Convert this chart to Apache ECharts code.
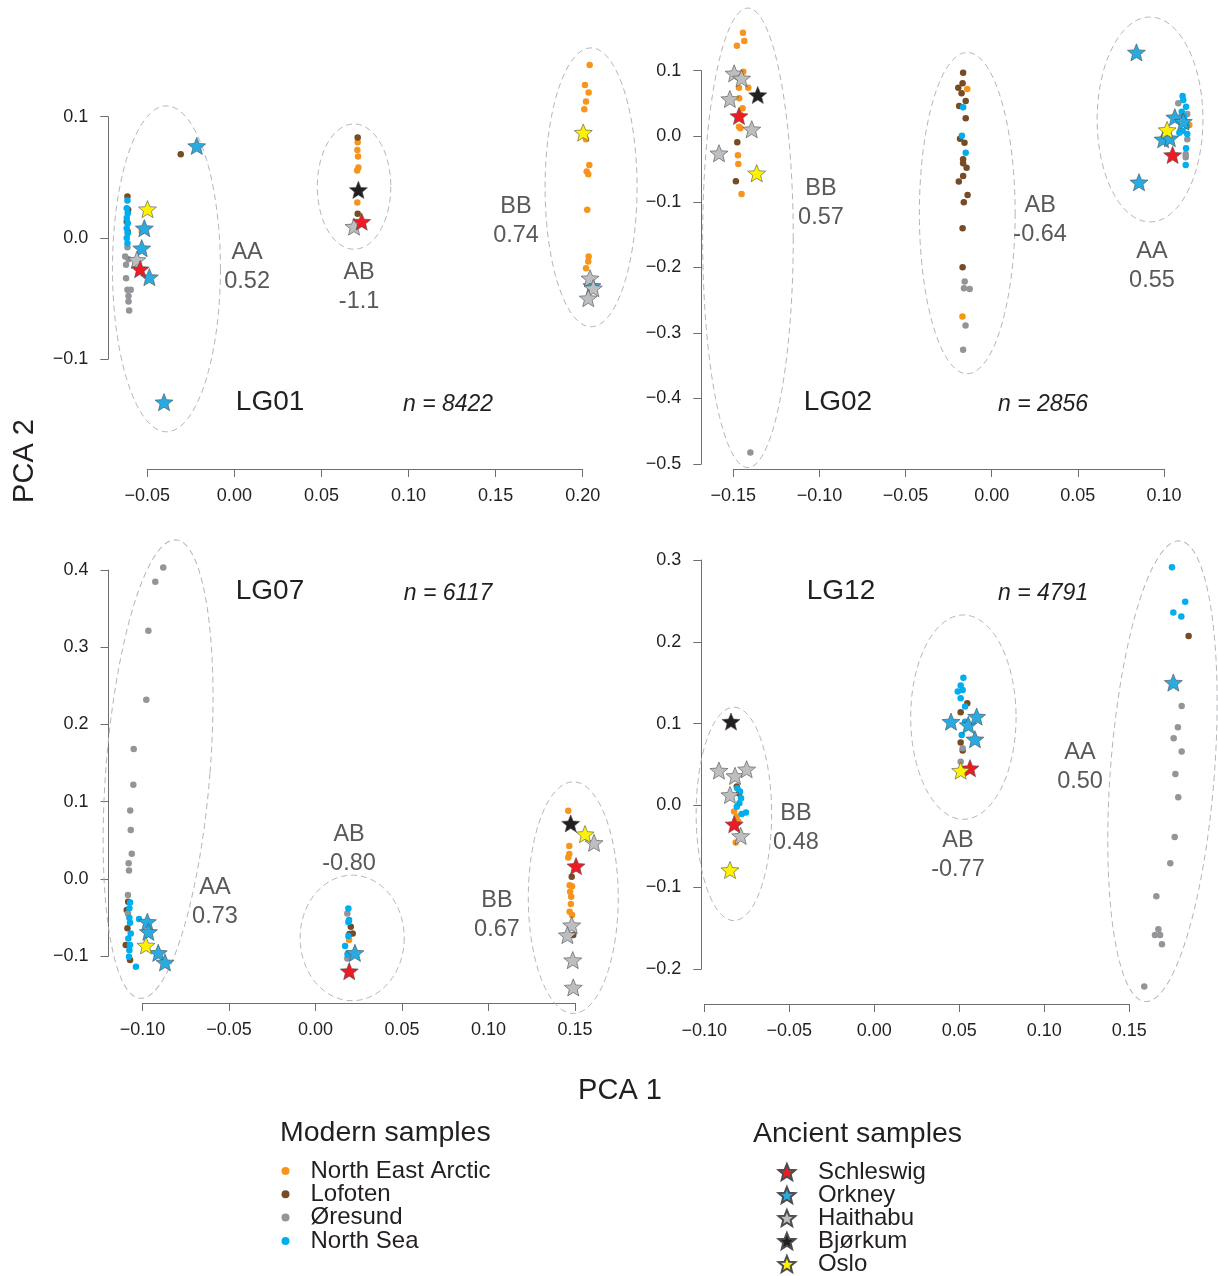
<!DOCTYPE html>
<html>
<head>
<meta charset="utf-8">
<title>PCA per linkage group</title>
<script src="https://cdn.jsdelivr.net/npm/echarts@6/dist/echarts.min.js"></script>
<style>
  html, body { margin: 0; padding: 0; background: #fff; }
  #chart { width: 1218px; height: 1276px; }
</style>
</head>
<body>
<div id="chart"></div>
<script>
// values: [PCA 1, PCA 2]

// ---- LG01 ----
const lg01XRange = [-0.05, 0.20, 0.05];
const lg01YRange = [-0.1, 0.1, 0.1];
const lg01NEA = [[-0.0532, 0.0052],
  [0.0708, 0.0790], [0.0706, 0.0726], [0.0710, 0.0671], [0.0712, 0.0580], [0.0705, 0.0555], [0.0706, 0.0291],
  [0.2040, 0.1427], [0.2013, 0.1262], [0.2034, 0.1199], [0.2019, 0.1125], [0.2009, 0.1062], [0.2019, 0.0814],
  [0.2038, 0.0602], [0.2023, 0.0547], [0.2032, 0.0526], [0.2026, 0.0231], [0.2034, -0.0154], [0.2032, -0.0196], [0.2019, -0.0250]];
const lg01Lofoten = [[-0.0614, 0.0341], [-0.0610, 0.0231], [-0.0618, 0.0132], [-0.0612, 0.0050], [-0.0308, 0.0691], [0.0708, 0.0828], [0.0708, 0.0198]];
const lg01Oresund = [[-0.0614, -0.0077], [-0.0627, -0.0154], [-0.0608, -0.0176], [-0.0622, -0.0223], [-0.0622, -0.0333],
  [-0.0614, -0.0429], [-0.0595, -0.0429], [-0.0608, -0.0479], [-0.0608, -0.0526], [-0.0604, -0.0600]];
const lg01NorthSea = [[-0.0614, 0.0308], [-0.0618, 0.0245], [-0.0612, 0.0204], [-0.0618, 0.0163], [-0.0612, 0.0121],
  [-0.0618, 0.0080], [-0.0612, 0.0039], [-0.0618, -0.0002], [-0.0614, -0.0044]];
const lg01Schleswig = [[-0.0541, -0.0258], [0.0731, 0.0134]];
const lg01Orkney = [[0.2053, -0.0396], [-0.0216, 0.0759], [-0.0517, 0.0080], [-0.0532, -0.0085], [-0.0488, -0.0324], [-0.0404, -0.1356]];
const lg01Haithabu = [[-0.0560, -0.0182], [0.0687, 0.0093], [0.2042, -0.0333], [0.2061, -0.0415], [0.2032, -0.0498]];
const lg01Bjorkum = [[0.0712, 0.0396]];
const lg01Oslo = [[-0.0499, 0.0237], [0.2003, 0.0869]];
// ellipse: [centre x, centre y, half width, half height, tilt in degrees]
const lg01Ellipses = [[-0.0390, -0.0256, 0.0310, 0.1345, 0], [0.0687, 0.0423, 0.0211, 0.0517, 0], [0.2048, 0.0417, 0.0264, 0.1151, 0]];
const lg01NoteAt = [[0.0073, -0.0239], [0.0716, -0.0404], [0.1617, 0.0140]];
const lg01Notes = ['AA\n0.52', 'AB\n-1.1', 'BB\n0.74'];
const lg01TagAt = [[0.0205, -0.1361], [0.1227, -0.1378]];
const lg01Tags = ['LG01', 'n = 8422'];

// ---- LG02 ----
const lg02XRange = [-0.15, 0.10, 0.05];
const lg02YRange = [-0.5, 0.1, 0.1];
const lg02NEA = [[-0.1444, 0.1580], [-0.1436, 0.1453], [-0.1479, 0.1381], [-0.1442, 0.0985], [-0.1467, 0.0741], [-0.1413, 0.0741],
  [-0.1466, 0.0579], [-0.1446, 0.0427], [-0.1460, 0.0330], [-0.1467, 0.0146], [-0.1459, 0.0122], [-0.1473, -0.0290],
  [-0.1471, -0.0422], [-0.1452, -0.0880], [-0.0142, 0.0721], [-0.0170, -0.2750], [0.1147, 0.0172]];
const lg02Lofoten = [[-0.1477, -0.0091], [-0.1485, -0.0686],
  [-0.0166, 0.0970], [-0.0169, 0.0808], [-0.0194, 0.0741], [-0.0175, 0.0655], [-0.0151, 0.0538], [-0.0189, 0.0462],
  [-0.0151, 0.0274], [-0.0184, -0.0040], [-0.0158, -0.0098], [-0.0166, -0.0351], [-0.0166, -0.0412], [-0.0146, -0.0479],
  [-0.0166, -0.0605], [-0.0191, -0.0692], [-0.0140, -0.0895], [-0.0162, -0.1006], [-0.0169, -0.1402], [-0.0169, -0.1997]];
const lg02Oresund = [[-0.1401, -0.4823],
  [-0.0157, -0.2216], [-0.0161, -0.2317], [-0.0128, -0.2332], [-0.0152, -0.2887], [-0.0166, -0.3258],
  [0.1083, 0.0503], [0.1135, 0.0340], [0.1135, -0.0046], [0.1126, -0.0270], [0.1126, -0.0320]];
const lg02NorthSea = [[-0.0166, 0.0442], [-0.0173, 0.0009], [-0.0151, -0.0250],
  [0.1108, 0.0614], [0.1112, 0.0553], [0.1128, 0.0451], [0.1103, 0.0375], [0.1117, 0.0299], [0.1123, 0.0223],
  [0.1133, 0.0157], [0.1109, 0.0081], [0.1089, 0.0055], [0.1135, 0.0035], [0.1128, -0.0183], [0.1126, -0.0438]];
const lg02Schleswig = [[-0.1467, 0.0310], [0.1050, -0.0285]];
const lg02Orkney = [[0.0840, 0.1280], [0.1063, 0.0290], [0.1112, 0.0223], [0.0995, -0.0046], [0.1034, -0.0030], [0.0855, -0.0701]];
const lg02Haithabu = [[-0.1495, 0.0960], [-0.1452, 0.0884], [-0.1520, 0.0569], [-0.1393, 0.0107], [-0.1583, -0.0259]];
const lg02Bjorkum = [[-0.1358, 0.0630]];
const lg02Oslo = [[-0.1364, -0.0564], [0.1018, 0.0096]];
const lg02Ellipses = [[-0.1415, -0.1550, 0.0263, 0.3506, 0], [-0.0142, -0.1172, 0.0278, 0.2451, 0], [0.0919, 0.0256, 0.0307, 0.1563, 0]];
const lg02NoteAt = [[-0.0991, -0.1017], [0.0281, -0.1276], [0.0930, -0.1985]];
const lg02Notes = ['BB\n0.57', 'AB\n-0.64', 'AA\n0.55'];
const lg02TagAt = [[-0.0893, -0.4066], [0.0298, -0.4096]];
const lg02Tags = ['LG02', 'n = 2856'];

// ---- LG07 ----
const lg07XRange = [-0.10, 0.15, 0.05];
const lg07YRange = [-0.1, 0.4, 0.1];
const lg07NEA = [[0.0194, -0.0794], [0.1461, 0.0881], [0.1467, 0.0424], [0.1467, 0.0320], [0.1461, 0.0277], [0.1469, -0.0082],
  [0.1483, -0.0095], [0.1472, -0.0168], [0.1478, -0.0233], [0.1476, -0.0328], [0.1469, -0.0427], [0.1483, -0.0470]];
const lg07Lofoten = [[-0.1083, -0.0298], [-0.1091, -0.0405], [-0.1087, -0.0642], [-0.1097, -0.0859], [-0.1072, -0.1053],
  [0.0204, -0.0622], [0.0215, -0.0707], [0.0196, -0.0716], [0.1481, 0.0026], [0.1490, -0.0729]];
const lg07Oresund = [[-0.0880, 0.4034], [-0.0926, 0.3847], [-0.0966, 0.3212], [-0.0978, 0.2319], [-0.1051, 0.1680], [-0.1053, 0.1218],
  [-0.1071, 0.0886], [-0.1068, 0.0631], [-0.1062, 0.0324], [-0.1080, 0.0203], [-0.1078, 0.0109], [-0.1084, -0.0211], [-0.1084, -0.0450],
  [0.0184, -0.0449], [0.0186, -0.0966], [0.0184, -0.1031]];
const lg07NorthSea = [[-0.1072, -0.0306], [-0.1076, -0.0383], [-0.1076, -0.0505], [-0.1072, -0.0570], [-0.1068, -0.0707], [-0.1082, -0.0772],
  [-0.1072, -0.0859], [-0.1076, -0.0924], [-0.1078, -0.1010], [-0.1038, -0.1140], [-0.1020, -0.0522],
  [0.0190, -0.0384], [0.0194, -0.0535], [0.0190, -0.0560], [0.0190, -0.0742], [0.0171, -0.0872], [0.0186, -0.0985]];
const lg07Schleswig = [[0.0195, -0.1196], [0.1506, 0.0165]];
const lg07Orkney = [[-0.0972, -0.0557], [-0.0966, -0.0687], [-0.0909, -0.0959], [-0.0870, -0.1083], [0.0228, -0.0959]];
const lg07Haithabu = [[0.1610, 0.0466], [0.1481, -0.0600], [0.1456, -0.0729], [0.1487, -0.1053], [0.1490, -0.1407]];
const lg07Bjorkum = [[0.1475, 0.0717]];
const lg07Oslo = [[-0.0980, -0.0863], [0.1558, 0.0579]];
const lg07Ellipses = [[-0.0910, 0.1421, 0.0301, 0.2979, 4.5], [0.0212, -0.0766, 0.0301, 0.0813, 0], [0.1490, -0.0244, 0.0260, 0.1500, 0]];
const lg07NoteAt = [[-0.0581, -0.0302], [0.0194, 0.0385], [0.1049, -0.0464]];
const lg07Notes = ['AA\n0.73', 'AB\n-0.80', 'BB\n0.67'];
const lg07TagAt = [[-0.0263, 0.3727], [0.0766, 0.3688]];
const lg07Tags = ['LG07', 'n = 6117'];

// ---- LG12 ----
const lg12XRange = [-0.10, 0.15, 0.05];
const lg12YRange = [-0.2, 0.3, 0.1];
const lg12NEA = [[-0.0825, -0.0076], [-0.0809, -0.0137], [-0.0800, -0.0198], [-0.0815, -0.0455]];
const lg12Lofoten = [[-0.0809, 0.0230], [-0.0795, 0.0147], [0.0547, 0.1249], [0.0508, 0.1139], [0.0508, 0.0768], [0.0520, 0.0670], [0.1849, 0.2072]];
const lg12Oresund = [[0.0520, 0.0699], [0.0508, 0.0535], [0.1808, 0.1216], [0.1786, 0.0956], [0.1761, 0.0821], [0.1808, 0.0658],
  [0.1771, 0.0385], [0.1788, 0.0100], [0.1767, -0.0385], [0.1741, -0.0707], [0.1659, -0.1110], [0.1671, -0.1513],
  [0.1651, -0.1583], [0.1681, -0.1583], [0.1692, -0.1697], [0.1588, -0.2215]];
const lg12NorthSea = [[-0.0806, 0.0210], [-0.0790, 0.0169], [-0.0784, 0.0088], [-0.0794, 0.0027], [-0.0809, -0.0015], [-0.0755, -0.0088],
  [-0.0780, -0.0104], [0.0524, 0.1562], [0.0508, 0.1465], [0.0491, 0.1391], [0.0520, 0.1412], [0.0508, 0.1311], [0.0534, 0.1208],
  [0.0514, 0.0862], [0.0534, 0.1024], [0.1751, 0.2912], [0.1829, 0.2491], [0.1759, 0.2357], [0.1806, 0.2308]];
const lg12Schleswig = [[-0.0824, -0.0230], [0.0563, 0.0455]];
const lg12Orkney = [[0.0451, 0.1024], [0.0553, 0.0984], [0.0592, 0.0809], [0.0602, 0.1086], [0.1759, 0.1501]];
const lg12Haithabu = [[-0.0914, 0.0426], [-0.0819, 0.0361], [-0.0751, 0.0442], [-0.0849, 0.0128], [-0.0786, -0.0373]];
const lg12Bjorkum = [[-0.0843, 0.1025]];
const lg12Oslo = [[-0.0849, -0.0789], [0.0508, 0.0425]];
const lg12Ellipses = [[-0.0826, -0.0104, 0.0222, 0.1304, 0], [0.0524, 0.1079, 0.0310, 0.1249, 0], [0.1695, 0.0418, 0.0306, 0.2824, 4.3]];
const lg12NoteAt = [[-0.0461, -0.0281], [0.0492, -0.0605], [0.1210, 0.0471]];
const lg12Notes = ['BB\n0.48', 'AB\n-0.77', 'AA\n0.50'];
const lg12TagAt = [[-0.0196, 0.2622], [0.0993, 0.2586]];
const lg12Tags = ['LG12', 'n = 4791'];

// ---- groups (legend order) ----
const modernNames = ['North East Arctic', 'Lofoten', 'Øresund', 'North Sea'];
const modernColors = ['#F7941D', '#754C24', '#939598', '#00AEEF'];
const ancientNames = ['Schleswig', 'Orkney', 'Haithabu', 'Bjørkum', 'Oslo'];
const ancientColors = ['#ED1C24', '#29ABE2', '#BCBEC0', '#231F20', '#FFF200'];

const FONT = '"Liberation Sans", Arial, Helvetica, sans-serif';

// five point star as a symbol path
const STAR = (function () {
  const p = [];
  for (let i = 0; i < 10; i++) {
    const r = i % 2 ? 22 : 50;
    const a = -Math.PI / 2 + i * Math.PI / 5;
    p.push((50 + r * Math.cos(a)).toFixed(2) + ',' + (50 + r * Math.sin(a)).toFixed(2));
  }
  return 'path://M' + p.join('L') + 'Z';
})();

// pixel layout of each panel (grid = tick range, axes pulled off like R)
const panels = [
  { grid: { left: 147.3, top: 116.7, width: 435.4, height: 242.3 }, xOff: 110, yOff: 39,
    x: lg01XRange, y: lg01YRange,
    modern: [lg01NEA, lg01Lofoten, lg01Oresund, lg01NorthSea],
    ancient: [lg01Schleswig, lg01Orkney, lg01Haithabu, lg01Bjorkum, lg01Oslo],
    ellipses: lg01Ellipses, noteAt: lg01NoteAt, notes: lg01Notes, tagAt: lg01TagAt, tags: lg01Tags },
  { grid: { left: 733.3, top: 70.7, width: 430.7, height: 393.3 }, xOff: 5, yOff: 32,
    x: lg02XRange, y: lg02YRange,
    modern: [lg02NEA, lg02Lofoten, lg02Oresund, lg02NorthSea],
    ancient: [lg02Schleswig, lg02Orkney, lg02Haithabu, lg02Bjorkum, lg02Oslo],
    ellipses: lg02Ellipses, noteAt: lg02NoteAt, notes: lg02Notes, tagAt: lg02TagAt, tags: lg02Tags },
  { grid: { left: 142.5, top: 570, width: 432.5, height: 386 }, xOff: 47, yOff: 34,
    x: lg07XRange, y: lg07YRange,
    modern: [lg07NEA, lg07Lofoten, lg07Oresund, lg07NorthSea],
    ancient: [lg07Schleswig, lg07Orkney, lg07Haithabu, lg07Bjorkum, lg07Oslo],
    ellipses: lg07Ellipses, noteAt: lg07NoteAt, notes: lg07Notes, tagAt: lg07TagAt, tags: lg07Tags },
  { grid: { left: 704.3, top: 560, width: 425, height: 409 }, xOff: 35, yOff: 3,
    x: lg12XRange, y: lg12YRange,
    modern: [lg12NEA, lg12Lofoten, lg12Oresund, lg12NorthSea],
    ancient: [lg12Schleswig, lg12Orkney, lg12Haithabu, lg12Bjorkum, lg12Oslo],
    ellipses: lg12Ellipses, noteAt: lg12NoteAt, notes: lg12Notes, tagAt: lg12TagAt, tags: lg12Tags }
];

function fmt(v, d) {
  return (v < -1e-9 ? '\u2212' : '') + Math.abs(v).toFixed(d);
}

const axisColor = '#6D6E71';
const grids = [], xAxes = [], yAxes = [], series = [];

panels.forEach(function (p, i) {
  grids.push(Object.assign({ containLabel: false, outerBoundsMode: 'none' }, p.grid));
  xAxes.push({
    gridIndex: i, type: 'value', position: 'bottom', offset: p.xOff,
    min: p.x[0], max: p.x[1], interval: p.x[2],
    axisLine: { show: true, onZero: false, lineStyle: { color: axisColor, width: 1 } },
    axisTick: { show: true, inside: false, length: 8, lineStyle: { color: axisColor, width: 1 } },
    axisLabel: { show: true, margin: 18, fontSize: 18, color: '#231F20', fontFamily: FONT,
      showMinLabel: true, showMaxLabel: true, hideOverlap: false, formatter: function (v) { return fmt(v, 2); } },
    splitLine: { show: false }
  });
  yAxes.push({
    gridIndex: i, type: 'value', position: 'left', offset: p.yOff,
    min: p.y[0], max: p.y[1], interval: p.y[2],
    axisLine: { show: true, onZero: false, lineStyle: { color: axisColor, width: 1 } },
    axisTick: { show: true, inside: false, length: 8, lineStyle: { color: axisColor, width: 1 } },
    axisLabel: { show: true, margin: 20, fontSize: 18, color: '#231F20', fontFamily: FONT,
      showMinLabel: true, showMaxLabel: true, hideOverlap: false, formatter: function (v) { return fmt(v, 1); } },
    splitLine: { show: false }
  });

  // dashed ellipses round the genotype clusters
  series.push({
    type: 'custom', xAxisIndex: i, yAxisIndex: i, silent: true, clip: false, z: 1,
    data: p.ellipses,
    renderItem: function (params, api) {
      const c = api.coord([api.value(0), api.value(1)]);
      const s = api.size([api.value(2), api.value(3)]);
      const pts = [];
      for (let k = 0; k < 120; k++) {
        const t = k / 120 * Math.PI * 2;
        pts.push([s[0] * Math.cos(t), s[1] * Math.sin(t)]);
      }
      return {
        type: 'polygon', x: c[0], y: c[1], rotation: -api.value(4) * Math.PI / 180,
        shape: { points: pts },
        style: { fill: 'none', stroke: '#B3B5B8', lineWidth: 1, lineDash: [6, 4] }
      };
    }
  });

  modernNames.forEach(function (name, g) {
    series.push({
      type: 'scatter', name: name, xAxisIndex: i, yAxisIndex: i, clip: false, silent: true, z: 3,
      symbol: 'circle', symbolSize: 6.5,
      itemStyle: { color: modernColors[g], opacity: 1 },
      data: p.modern[g]
    });
  });

  // draw order of stars
  [1, 2, 0, 4, 3].forEach(function (g) {
    series.push({
      type: 'scatter', name: ancientNames[g], xAxisIndex: i, yAxisIndex: i, clip: false, silent: true, z: 4,
      symbol: STAR, symbolSize: 18, symbolKeepAspect: true,
      itemStyle: { color: ancientColors[g], borderColor: '#4D4D4F', borderWidth: 0.6, opacity: 1 },
      data: p.ancient[g]
    });
  });

  // genotype labels
  series.push({
    type: 'custom', xAxisIndex: i, yAxisIndex: i, silent: true, clip: false, z: 5,
    data: p.noteAt,
    renderItem: function (params, api) {
      const c = api.coord([api.value(0), api.value(1)]);
      return {
        type: 'text', x: c[0], y: c[1],
        style: { text: p.notes[params.dataIndex], fill: '#58595B', fontSize: 23.5, fontFamily: FONT,
          lineHeight: 29, align: 'center', verticalAlign: 'middle' }
      };
    }
  });

  // panel name and marker count
  series.push({
    type: 'custom', xAxisIndex: i, yAxisIndex: i, silent: true, clip: false, z: 5,
    data: p.tagAt,
    renderItem: function (params, api) {
      const c = api.coord([api.value(0), api.value(1)]);
      const first = params.dataIndex === 0;
      return {
        type: 'text', x: c[0], y: c[1],
        style: { text: p.tags[params.dataIndex], fill: '#231F20', fontFamily: FONT,
          fontSize: first ? 28 : 23, fontStyle: first ? 'normal' : 'italic',
          align: 'center', verticalAlign: 'middle' }
      };
    }
  });
});

const chart = echarts.init(document.getElementById('chart'), null, { renderer: 'canvas' });
chart.setOption({
  backgroundColor: '#ffffff',
  animation: false,
  grid: grids,
  xAxis: xAxes,
  yAxis: yAxes,
  series: series,
  legend: [
    {
      left: 281.5, top: 1159, height: 160, orient: 'vertical', padding: 0, itemGap: -0.7,
      itemWidth: 40, itemHeight: 8, selectedMode: false,
      textStyle: { fontSize: 24, color: '#231F20', fontFamily: FONT },
      data: modernNames.map(function (n) { return { name: n, icon: 'circle' }; })
    },
    {
      left: 777.5, top: 1160, height: 160, orient: 'vertical', padding: 0, itemGap: -1,
      itemWidth: 52, itemHeight: 16, selectedMode: false,
      textStyle: { fontSize: 24, color: '#231F20', fontFamily: FONT },
      data: ancientNames.map(function (n) { return { name: n, icon: STAR }; })
    }
  ],
  graphic: [
    { type: 'text', x: 620, y: 1091, style: { text: 'PCA 1', fontSize: 29, fontFamily: FONT, fill: '#231F20', align: 'center', verticalAlign: 'middle' } },
    { type: 'text', x: 25, y: 461, rotation: Math.PI / 2, style: { text: 'PCA 2', fontSize: 29, fontFamily: FONT, fill: '#231F20', align: 'center', verticalAlign: 'middle' } },
    { type: 'text', x: 280, y: 1133, style: { text: 'Modern samples', fontSize: 28.5, fontFamily: FONT, fill: '#231F20', align: 'left', verticalAlign: 'middle' } },
    { type: 'text', x: 753, y: 1134, style: { text: 'Ancient samples', fontSize: 28.5, fontFamily: FONT, fill: '#231F20', align: 'left', verticalAlign: 'middle' } }
  ]
});
</script>
</body>
</html>
